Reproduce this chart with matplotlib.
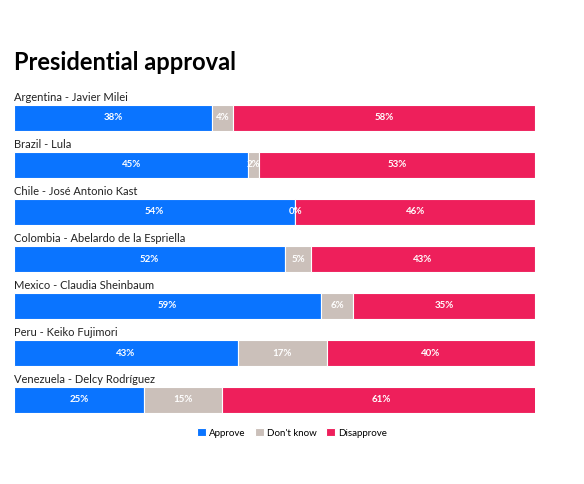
import matplotlib
matplotlib.use("Agg")
import matplotlib.pyplot as plt

countries = ["Argentina - Javier Milei", "Brazil - Lula", "Chile - José Antonio Kast",
             "Colombia - Abelardo de la Espriella", "Mexico - Claudia Sheinbaum",
             "Peru - Keiko Fujimori", "Venezuela - Delcy Rodríguez"]
approve = [38, 45, 54, 52, 59, 43, 25]
dontknow = [4, 2, 0, 5, 6, 17, 15]
disapprove = [58, 53, 46, 43, 35, 40, 61]
series = [("Approve", approve, "#0a74ff"), ("Don't know", dontknow, "#cbc0ba"),
          ("Disapprove", disapprove, "#ee1f5b")]

plt.rcParams['font.family'] = ['Lato', 'DejaVu Sans']
W, H = 584, 484
fig = plt.figure(figsize=(W/100, H/100), dpi=100)
fig.text(14/W, 1-62/H, "Presidential approval", fontsize=17, fontweight='bold',
         va='center', ha='left')
ax = fig.add_axes([14/W, (H-428.2)/H, 521/W, 338.4/H])
ax.set_xlim(0, 100)
ax.set_ylim(6.6, -0.6)
ax.axis('off')
for i, c in enumerate(countries):
    left = 0
    for name, vals, col in series:
        v = vals[i]
        ax.barh(i, v, left=left, height=0.57, color=col, edgecolor='white', linewidth=0.8,
                label=name if i == 0 else None)
        ax.text(left + v/2, i, f"{v}%", ha='center', va='center', color='white',
                fontsize=7, fontweight='bold')
        left += v
    ax.text(0, i - 0.43, c, ha='left', va='center', fontsize=8, color='#222222')
fig.legend(loc='center', bbox_to_anchor=(0.5, 1-433/H), ncol=3, frameon=False,
           fontsize=7, handlelength=0.9, handleheight=0.9, handletextpad=0.3,
           columnspacing=1.0)
fig.savefig("out.png", dpi=100, facecolor='white')
